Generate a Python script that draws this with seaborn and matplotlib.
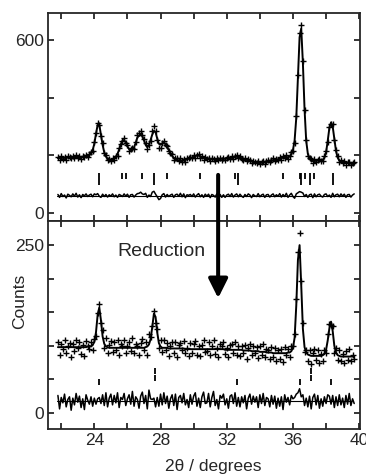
import numpy as np
import pandas as pd
import seaborn as sns
import matplotlib.pyplot as plt
from matplotlib.patches import ArrowStyle

# 2theta grid, 21.8 .. 39.7 deg in 0.1 steps
two_theta = np.round(np.arange(21.8, 39.75, 0.1), 2)

# --- top panel (before reduction) ---
top_obs = [
    194, 184, 198, 188, 193, 184, 197, 193, 189, 199,
    191, 201, 189, 197, 187, 199, 194, 202, 195, 203,
    212, 214, 246, 278, 312, 304, 266, 241, 207, 200,
    183, 187, 181, 191, 185, 197, 199, 224, 239, 248,
    259, 242, 236, 216, 221, 224, 223, 245, 269, 276,
    284, 272, 256, 244, 222, 237, 251, 284, 300, 285,
    254, 226, 227, 244, 250, 235, 234, 215, 209, 203,
    185, 190, 189, 180, 189, 177, 188, 177, 189, 189,
    194, 189, 200, 192, 202, 206, 192, 196, 185, 194,
    186, 192, 180, 190, 187, 181, 192, 184, 191, 182,
    191, 182, 191, 194, 187, 198, 187, 196, 201, 190,
    197, 188, 182, 190, 181, 188, 182, 172, 181, 175,
    172, 181, 170, 176, 180, 170, 180, 182, 175, 183,
    189, 180, 188, 184, 195, 185, 197, 190, 200, 187,
    198, 211, 215, 243, 336, 480, 624, 652, 529, 357,
    254, 199, 191, 187, 173, 186, 177, 185, 186, 179,
    179, 196, 216, 247, 297, 308, 308, 254, 218, 197,
    178, 184, 174, 180, 168, 176, 176, 166, 172, 176,
]
top_calc = [
    190, 190, 191, 191, 191, 192, 192, 192, 193, 193,
    193, 193, 194, 194, 194, 195, 195, 196, 198, 201,
    207, 218, 240, 275, 305, 306, 272, 236, 210, 196,
    188, 184, 183, 185, 189, 195, 205, 220, 238, 251,
    253, 244, 231, 222, 218, 220, 228, 243, 262, 268,
    272, 266, 252, 236, 228, 235, 254, 272, 285, 280,
    258, 240, 237, 241, 243, 240, 230, 218, 207, 198,
    191, 187, 184, 182, 181, 181, 182, 184, 186, 188,
    190, 192, 194, 197, 200, 199, 196, 193, 191, 189,
    188, 187, 187, 186, 186, 186, 186, 187, 187, 188,
    188, 188, 189, 189, 190, 191, 192, 194, 195, 194,
    192, 190, 188, 186, 184, 182, 180, 179, 177, 176,
    175, 174, 174, 174, 175, 176, 177, 178, 180, 181,
    183, 184, 185, 186, 188, 190, 193, 193, 192, 193,
    196, 203, 218, 252, 330, 470, 610, 640, 520, 360,
    250, 205, 188, 182, 180, 180, 181, 182, 181, 181,
    184, 192, 210, 250, 295, 314, 300, 258, 215, 192,
    182, 178, 176, 175, 174, 173, 172, 171, 170, 170,
]
top_diff_offset = 60
top_refl_a = [24.3, 25.7, 25.9, 26.9, 27.6, 28.4, 30.4, 32.5, 32.7,
              35.4, 36.4, 36.5, 36.7, 37.0, 37.3, 38.4]
top_refl_b = [24.3, 27.6, 32.7, 36.5, 37.0, 38.4]

# --- bottom panel (after reduction) ---
bot_obs = [
    106, 86, 103, 95, 108, 89, 100, 104, 84, 102,
    92, 109, 96, 105, 88, 101, 85, 107, 100, 95,
    105, 93, 110, 115, 149, 162, 134, 123, 96, 111,
    89, 101, 107, 91, 105, 94, 109, 87, 102, 99,
    108, 90, 100, 106, 92, 111, 89, 103, 99, 86,
    104, 110, 93, 106, 87, 118, 113, 130, 152, 134,
    125, 96, 109, 91, 109, 93, 104, 85, 99, 105,
    89, 106, 83, 101, 104, 93, 107, 89, 97, 85,
    104, 90, 102, 107, 87, 99, 85, 101, 108, 91,
    92, 106, 86, 100, 109, 88, 97, 83, 103, 99,
    105, 88, 97, 83, 101, 103, 90, 106, 86, 99,
    85, 100, 90, 101, 81, 97, 103, 87, 99, 90,
    98, 82, 100, 87, 102, 84, 95, 93, 81, 98,
    84, 96, 78, 93, 81, 95, 76, 98, 87, 95,
    84, 100, 100, 117, 170, 240, 268, 196, 134, 91,
    94, 78, 93, 73, 90, 95, 79, 93, 74, 88,
    78, 94, 90, 117, 133, 131, 130, 90, 96, 79,
    94, 78, 88, 74, 92, 79, 95, 77, 87, 80,
]
bot_calc = [
    98, 98, 98, 98, 98, 98, 98, 98, 98, 98,
    98, 98, 98, 98, 98, 98, 98, 98, 99, 100,
    99, 101, 106, 120, 146, 157, 138, 114, 103, 99,
    98, 97, 97, 97, 97, 97, 97, 97, 97, 97,
    97, 97, 97, 97, 97, 97, 97, 97, 97, 97,
    97, 97, 97, 98, 99, 102, 110, 128, 148, 143,
    120, 104, 99, 97, 97, 97, 97, 96, 96, 96,
    96, 96, 96, 96, 96, 96, 96, 95, 95, 95,
    95, 95, 95, 95, 95, 95, 95, 95, 95, 95,
    95, 95, 95, 95, 95, 95, 95, 95, 95, 95,
    95, 94, 94, 94, 94, 94, 94, 94, 94, 94,
    94, 94, 93, 93, 93, 93, 93, 92, 92, 92,
    92, 92, 91, 91, 91, 91, 90, 90, 90, 90,
    89, 89, 89, 89, 89, 89, 89, 89, 89, 90,
    90, 92, 97, 112, 160, 228, 250, 190, 125, 98,
    90, 87, 86, 85, 85, 85, 85, 85, 85, 85,
    86, 88, 94, 108, 126, 136, 122, 100, 90, 86,
    85, 84, 84, 84, 84, 84, 84, 84, 84, 84,
]
bot_diff_offset = 18
bot_refl_a = [24.3, 32.6, 36.45, 38.3]
bot_refl_b = [27.65, 37.1]

x_ticks = [22, 24, 26, 28, 30, 32, 34, 36, 38, 40]
x_ticklabels = ["", "24", "", "28", "", "32", "", "36", "", "40"]


def make_df(obs, calc, offset):
    df = pd.DataFrame({"two_theta": two_theta, "obs": obs, "calc": calc})
    df["diff"] = df["obs"] - df["calc"] + offset
    return df


def tick_row(ax, pos, y):
    sns.scatterplot(x=pos, y=[y] * len(pos), marker="|", s=20,
                    color="black", linewidth=1.3, ax=ax, legend=False)


def draw_panel(ax, df, offset):
    sns.scatterplot(data=df, x="two_theta", y="obs", marker="+", s=18,
                    color="black", linewidth=1.0, ax=ax, legend=False, zorder=3)
    sns.lineplot(data=df, x="two_theta", y="calc", color="black", lw=1.4,
                 ax=ax, legend=False, zorder=4)
    sns.lineplot(data=df, x="two_theta", y="diff", color="black", lw=1.1,
                 ax=ax, legend=False)
    ax.axhline(offset, xmin=0.03, xmax=0.97, color="black", lw=0.8)


sns.set_style("ticks")
plt.rcParams["font.family"] = ["Liberation Sans", "DejaVu Sans"]

fig = plt.figure(figsize=(3.66, 4.74), dpi=100)
ax_top = fig.add_axes([0.1311, 0.5338, 0.8525, 0.4388])
ax_bot = fig.add_axes([0.1311, 0.0949, 0.8525, 0.4389])

df_top = make_df(top_obs, top_calc, top_diff_offset)
df_bot = make_df(bot_obs, bot_calc, bot_diff_offset)

draw_panel(ax_top, df_top, top_diff_offset)
tick_row(ax_top, top_refl_a, 128)
tick_row(ax_top, top_refl_b, 106)

draw_panel(ax_bot, df_bot, bot_diff_offset)
tick_row(ax_bot, bot_refl_a, 46)
tick_row(ax_bot, bot_refl_b, 52)
tick_row(ax_bot, bot_refl_b, 63)

ax_top.set_ylim(-28, 694)
ax_top.set_yticks([0, 200, 400, 600])
ax_top.set_yticklabels(["0", "", "", "600"])
ax_bot.set_ylim(-24, 286)
ax_bot.set_yticks([0, 50, 100, 150, 200, 250])
ax_bot.set_yticklabels(["0", "", "", "", "", "250"])

for ax in (ax_top, ax_bot):
    ax.set_xlim(21.2, 40.05)
    ax.set_xticks(x_ticks)
    ax.set_xlabel("")
    ax.set_ylabel("")
    ax.tick_params(direction="in", length=4, width=1.3, labelsize=12.5,
                   top=True, right=True, pad=3)
    for sp in ax.spines.values():
        sp.set_linewidth(1.3)
ax_top.set_xticklabels([])
ax_bot.set_xticklabels(x_ticklabels)

fig.text(213 / 366, 1 - 466 / 474, "2θ / degrees", ha="center", va="center",
         fontsize=12.5)
fig.text(20 / 366, 1 - 301 / 474, "Counts", ha="center", va="center",
         rotation=90, fontsize=12.5)

ax_bot.text(25.4, 240, "Reduction", ha="left", va="center", fontsize=14)
ax_bot.annotate("", xy=(31.48, 171), xycoords=ax_bot.transData,
                xytext=(31.48, 132), textcoords=ax_top.transData,
                arrowprops=dict(arrowstyle=ArrowStyle("-|>", head_length=0.4,
                                                      head_width=0.2),
                                mutation_scale=29, lw=2.9, color="black",
                                shrinkA=0, shrinkB=0),
                annotation_clip=False, zorder=10)

fig.savefig("out.png", dpi=100)
